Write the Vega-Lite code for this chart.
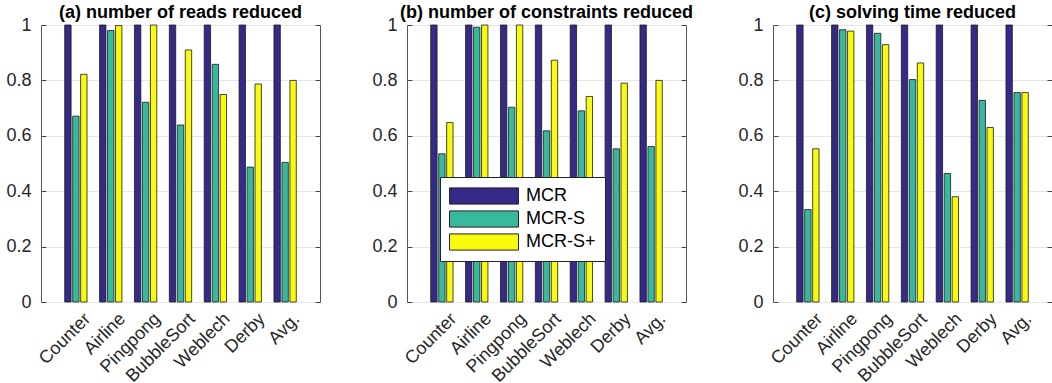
{
  "$schema": "https://vega.github.io/schema/vega-lite/v6.json",
  "padding": {"left": 5, "top": 3, "right": 0, "bottom": 0},
  "background": "white",
  "spacing": 87,
  "bounds": "flush",
  "data": {"values": [
    {"panel":"a","bench":"Counter","method":"MCR","value":1},
    {"panel":"a","bench":"Counter","method":"MCR-S","value":0.671},
    {"panel":"a","bench":"Counter","method":"MCR-S+","value":0.822},
    {"panel":"a","bench":"Airline","method":"MCR","value":1},
    {"panel":"a","bench":"Airline","method":"MCR-S","value":0.98},
    {"panel":"a","bench":"Airline","method":"MCR-S+","value":0.998},
    {"panel":"a","bench":"Pingpong","method":"MCR","value":1},
    {"panel":"a","bench":"Pingpong","method":"MCR-S","value":0.721},
    {"panel":"a","bench":"Pingpong","method":"MCR-S+","value":1},
    {"panel":"a","bench":"BubbleSort","method":"MCR","value":1},
    {"panel":"a","bench":"BubbleSort","method":"MCR-S","value":0.639},
    {"panel":"a","bench":"BubbleSort","method":"MCR-S+","value":0.91},
    {"panel":"a","bench":"Weblech","method":"MCR","value":1},
    {"panel":"a","bench":"Weblech","method":"MCR-S","value":0.858},
    {"panel":"a","bench":"Weblech","method":"MCR-S+","value":0.749},
    {"panel":"a","bench":"Derby","method":"MCR","value":1},
    {"panel":"a","bench":"Derby","method":"MCR-S","value":0.487},
    {"panel":"a","bench":"Derby","method":"MCR-S+","value":0.787},
    {"panel":"a","bench":"Avg.","method":"MCR","value":1},
    {"panel":"a","bench":"Avg.","method":"MCR-S","value":0.504},
    {"panel":"a","bench":"Avg.","method":"MCR-S+","value":0.8},
    {"panel":"b","bench":"Counter","method":"MCR","value":1},
    {"panel":"b","bench":"Counter","method":"MCR-S","value":0.535},
    {"panel":"b","bench":"Counter","method":"MCR-S+","value":0.648},
    {"panel":"b","bench":"Airline","method":"MCR","value":1},
    {"panel":"b","bench":"Airline","method":"MCR-S","value":0.992},
    {"panel":"b","bench":"Airline","method":"MCR-S+","value":1},
    {"panel":"b","bench":"Pingpong","method":"MCR","value":1},
    {"panel":"b","bench":"Pingpong","method":"MCR-S","value":0.703},
    {"panel":"b","bench":"Pingpong","method":"MCR-S+","value":1},
    {"panel":"b","bench":"BubbleSort","method":"MCR","value":1},
    {"panel":"b","bench":"BubbleSort","method":"MCR-S","value":0.618},
    {"panel":"b","bench":"BubbleSort","method":"MCR-S+","value":0.873},
    {"panel":"b","bench":"Weblech","method":"MCR","value":1},
    {"panel":"b","bench":"Weblech","method":"MCR-S","value":0.69},
    {"panel":"b","bench":"Weblech","method":"MCR-S+","value":0.742},
    {"panel":"b","bench":"Derby","method":"MCR","value":1},
    {"panel":"b","bench":"Derby","method":"MCR-S","value":0.553},
    {"panel":"b","bench":"Derby","method":"MCR-S+","value":0.79},
    {"panel":"b","bench":"Avg.","method":"MCR","value":1},
    {"panel":"b","bench":"Avg.","method":"MCR-S","value":0.561},
    {"panel":"b","bench":"Avg.","method":"MCR-S+","value":0.8},
    {"panel":"c","bench":"Counter","method":"MCR","value":1},
    {"panel":"c","bench":"Counter","method":"MCR-S","value":0.334},
    {"panel":"c","bench":"Counter","method":"MCR-S+","value":0.553},
    {"panel":"c","bench":"Airline","method":"MCR","value":1},
    {"panel":"c","bench":"Airline","method":"MCR-S","value":0.983},
    {"panel":"c","bench":"Airline","method":"MCR-S+","value":0.978},
    {"panel":"c","bench":"Pingpong","method":"MCR","value":1},
    {"panel":"c","bench":"Pingpong","method":"MCR-S","value":0.97},
    {"panel":"c","bench":"Pingpong","method":"MCR-S+","value":0.929},
    {"panel":"c","bench":"BubbleSort","method":"MCR","value":1},
    {"panel":"c","bench":"BubbleSort","method":"MCR-S","value":0.803},
    {"panel":"c","bench":"BubbleSort","method":"MCR-S+","value":0.863},
    {"panel":"c","bench":"Weblech","method":"MCR","value":1},
    {"panel":"c","bench":"Weblech","method":"MCR-S","value":0.464},
    {"panel":"c","bench":"Weblech","method":"MCR-S+","value":0.38},
    {"panel":"c","bench":"Derby","method":"MCR","value":1},
    {"panel":"c","bench":"Derby","method":"MCR-S","value":0.728},
    {"panel":"c","bench":"Derby","method":"MCR-S+","value":0.63},
    {"panel":"c","bench":"Avg.","method":"MCR","value":1},
    {"panel":"c","bench":"Avg.","method":"MCR-S","value":0.756},
    {"panel":"c","bench":"Avg.","method":"MCR-S+","value":0.756}
  ]},
  "hconcat": [
    {
      "title": {"text": "(a) number of reads reduced"},
      "transform": [{"filter": "datum.panel === 'a'"}],
      "width": 279, "height": 277,
      "layer": [
        {"mark": {"type": "bar", "stroke": "#1a1a1a", "strokeWidth": 0.8},
         "encoding": {
           "x": {"field": "bench", "type": "nominal", "sort": null, "scale": {"paddingInner": 0.36, "paddingOuter": 0.68}, "axis": {"title": null, "labelAngle": -45, "labelAlign": "right", "labelBaseline": "middle", "ticks": false, "domain": false, "labelPadding": 14, "labelOffset": 12}},
           "xOffset": {"field": "method", "type": "nominal", "sort": ["MCR","MCR-S","MCR-S+"], "scale": {"paddingInner": 0.2, "paddingOuter": 0}},
           "y": {"field": "value", "type": "quantitative", "scale": {"domain": [0, 1]}, "axis": {"title": null, "values": [0,0.2,0.4,0.6,0.8,1], "format": "~g", "grid": true, "gridColor": "#e6e6e6", "domain": false, "tickSize": -5, "labelPadding": 15}},
           "fill": {"field": "method", "type": "nominal", "scale": {"domain": ["MCR","MCR-S","MCR-S+"], "range": ["#352A87","#38B99E","#F9FB0E"]}, "legend": null}
         }},
        {"mark": {"type": "point", "opacity": 0},
         "encoding": {
           "y": {"field": "value", "type": "quantitative", "axis": {"orient": "right", "title": null, "values": [0,0.2,0.4,0.6,0.8,1], "labels": false, "grid": false, "domain": false, "tickSize": -5}}
         }}
      ],
      "resolve": {"axis": {"y": "independent"}}
    },
    {
      "title": {"text": "(b) number of constraints reduced"},
      "transform": [{"filter": "datum.panel === 'b'"}],
      "width": 279, "height": 277,
      "layer": [
        {"mark": {"type": "bar", "stroke": "#1a1a1a", "strokeWidth": 0.8},
         "encoding": {
           "x": {"field": "bench", "type": "nominal", "sort": null, "scale": {"paddingInner": 0.36, "paddingOuter": 0.68}, "axis": {"title": null, "labelAngle": -45, "labelAlign": "right", "labelBaseline": "middle", "ticks": false, "domain": false, "labelPadding": 14, "labelOffset": 12}},
           "xOffset": {"field": "method", "type": "nominal", "sort": ["MCR","MCR-S","MCR-S+"], "scale": {"paddingInner": 0.2, "paddingOuter": 0}},
           "y": {"field": "value", "type": "quantitative", "scale": {"domain": [0, 1]}, "axis": {"title": null, "values": [0,0.2,0.4,0.6,0.8,1], "format": "~g", "grid": true, "gridColor": "#e6e6e6", "domain": false, "tickSize": -5, "labelPadding": 15}},
           "fill": {"field": "method", "type": "nominal", "scale": {"domain": ["MCR","MCR-S","MCR-S+"], "range": ["#352A87","#38B99E","#F9FB0E"]},
             "legend": {"title": null, "orient": "none", "legendX": 33, "legendY": 152, "symbolType": "M-1,-0.235H1V0.235H-1Z", "symbolSize": 4761, "clipHeight": 20, "rowPadding": 3, "padding": 9, "fillColor": "white", "strokeColor": "#222", "labelFontSize": 18, "labelColor": "#000", "labelOffset": 7, "symbolStrokeColor": "#222", "symbolStrokeWidth": 1, "symbolOpacity": 1}}
         }},
        {"mark": {"type": "point", "opacity": 0},
         "encoding": {
           "y": {"field": "value", "type": "quantitative", "axis": {"orient": "right", "title": null, "values": [0,0.2,0.4,0.6,0.8,1], "labels": false, "grid": false, "domain": false, "tickSize": -5}}
         }}
      ],
      "resolve": {"axis": {"y": "independent"}}
    },
    {
      "title": {"text": "(c) solving time reduced"},
      "transform": [{"filter": "datum.panel === 'c'"}],
      "width": 279, "height": 277,
      "layer": [
        {"mark": {"type": "bar", "stroke": "#1a1a1a", "strokeWidth": 0.8},
         "encoding": {
           "x": {"field": "bench", "type": "nominal", "sort": null, "scale": {"paddingInner": 0.36, "paddingOuter": 0.68}, "axis": {"title": null, "labelAngle": -45, "labelAlign": "right", "labelBaseline": "middle", "ticks": false, "domain": false, "labelPadding": 14, "labelOffset": 12}},
           "xOffset": {"field": "method", "type": "nominal", "sort": ["MCR","MCR-S","MCR-S+"], "scale": {"paddingInner": 0.2, "paddingOuter": 0}},
           "y": {"field": "value", "type": "quantitative", "scale": {"domain": [0, 1]}, "axis": {"title": null, "values": [0,0.2,0.4,0.6,0.8,1], "format": "~g", "grid": true, "gridColor": "#e6e6e6", "domain": false, "tickSize": -5, "labelPadding": 15}},
           "fill": {"field": "method", "type": "nominal", "scale": {"domain": ["MCR","MCR-S","MCR-S+"], "range": ["#352A87","#38B99E","#F9FB0E"]}, "legend": null}
         }},
        {"mark": {"type": "point", "opacity": 0},
         "encoding": {
           "y": {"field": "value", "type": "quantitative", "axis": {"orient": "right", "title": null, "values": [0,0.2,0.4,0.6,0.8,1], "labels": false, "grid": false, "domain": false, "tickSize": -5}}
         }}
      ],
      "resolve": {"axis": {"y": "independent"}}
    }
  ],
  "resolve": {"scale": {"fill": "independent"}},
  "config": {
    "font": "Liberation Sans",
    "view": {"stroke": "#555", "strokeWidth": 1},
    "axis": {"labelFont": "Liberation Sans", "labelFontSize": 18, "labelColor": "#262626", "tickColor": "#444", "tickWidth": 1},
    "legend": {"labelFont": "Liberation Sans"},
    "title": {"font": "Liberation Sans", "fontSize": 18, "fontWeight": "bold", "color": "#000", "offset": -6}
  }
}
